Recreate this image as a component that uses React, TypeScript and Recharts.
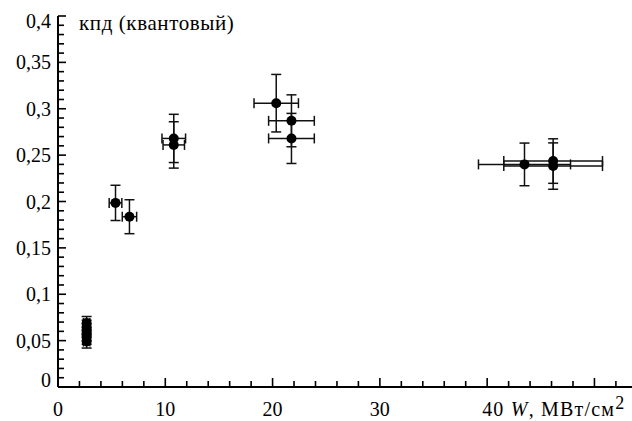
import React from 'react';
import { ScatterChart, Scatter, XAxis, YAxis, ErrorBar } from 'recharts';

// Measurements: radiation intensity W (MW/cm^2) vs quantum efficiency
const powerW = [2.67, 2.67, 2.67, 2.67, 2.67, 2.67, 5.36, 6.66, 10.79, 10.79, 20.34, 21.76, 21.76, 43.48, 46.15, 46.15];
const powerErr = [0.3, 0.3, 0.3, 0.3, 0.3, 0.3, 0.59, 0.67, 1.1, 1.0, 2.07, 2.13, 2.13, 4.29, 4.6, 4.6];
const quantumEff = [0.049, 0.053, 0.057, 0.061, 0.065, 0.069, 0.1985, 0.1836, 0.268, 0.261, 0.306, 0.287, 0.268, 0.24, 0.2436, 0.2382];
const effErr = [0.007, 0.007, 0.007, 0.007, 0.007, 0.007, 0.019, 0.0183, 0.026, 0.025, 0.031, 0.028, 0.027, 0.023, 0.024, 0.025];

const xTicks = [0, 2, 4, 6, 8, 10, 12, 14, 16, 18, 20, 22, 24, 26, 28, 30, 32, 34, 36, 38, 40, 42, 44, 46, 48, 50, 52];
const xMajorTicks = [0, 10, 20, 30, 40, 50];
const xTickLabels: Record<number, string> = { 0: '0', 10: '10', 20: '20', 30: '30' };
const xAxisUnit = ', МВт/см';

const yTicks = [
  0, 0.01, 0.02, 0.03, 0.04, 0.05, 0.06, 0.07, 0.08, 0.09,
  0.1, 0.11, 0.12, 0.13, 0.14, 0.15, 0.16, 0.17, 0.18, 0.19,
  0.2, 0.21, 0.22, 0.23, 0.24, 0.25, 0.26, 0.27, 0.28, 0.29,
  0.3, 0.31, 0.32, 0.33, 0.34, 0.35, 0.36, 0.37, 0.38, 0.39, 0.4,
];
const yMajorTicks = [0, 0.05, 0.1, 0.15, 0.2, 0.25, 0.3, 0.35, 0.4];
const yTickLabels = ['0', '0,05', '0,1', '0,15', '0,2', '0,25', '0,3', '0,35', '0,4'];
const yTitle = 'кпд (квантовый)';

const data = powerW.map((w, i) => ({ w, eff: quantumEff[i], ex: powerErr[i], ey: effErr[i] }));

const FONT = "'Times New Roman', Times, 'Liberation Serif', Tinos, 'DejaVu Serif', serif";
const txt: React.CSSProperties = { fontFamily: FONT, fontSize: 20 };
const AXIS_X = 58;
const AXIS_Y = 387;

const near = (a: number, b: number) => Math.abs(a - b) < 1e-6;

const YTick = (props: any) => {
  const { y, payload } = props;
  const v = payload.value as number;
  const idx = yMajorTicks.findIndex((m) => near(m, v));
  const major = idx >= 0;
  let dy = 7;
  if (near(v, 0)) dy = 0;
  if (near(v, 0.4)) dy = 12;
  return (
    <g>
      <line x1={AXIS_X} x2={AXIS_X + (major ? 8 : 6)} y1={y} y2={y} stroke="#000" strokeWidth={1.6} />
      {major && (
        <text x={51} y={y + dy} textAnchor="end" style={txt} fill="#000">
          {yTickLabels[idx]}
        </text>
      )}
    </g>
  );
};

const XTick = (props: any) => {
  const { x, payload } = props;
  const v = payload.value as number;
  const major = xMajorTicks.some((m) => near(m, v));
  const label = xTickLabels[v];
  return (
    <g>
      <line x1={x} x2={x} y1={AXIS_Y} y2={AXIS_Y - (major ? 9 : 6)} stroke="#000" strokeWidth={1.6} />
      {label !== undefined && (
        <text x={x} y={416} textAnchor="middle" style={txt} fill="#000">
          {label}
        </text>
      )}
      {near(v, 40) && (
        <text x={x - 5} y={416} textAnchor="start" style={{ ...txt, letterSpacing: 1.2 }} fill="#000">
          <tspan>40 </tspan>
          <tspan fontStyle="italic">W</tspan>
          <tspan>{xAxisUnit}</tspan>
          <tspan dy={-7} style={{ fontSize: 18 }}>2</tspan>
        </text>
      )}
    </g>
  );
};

const Dot = (props: any) => <circle cx={props.cx} cy={props.cy} r={5} fill="#000" />;

export default function App() {
  return (
    <div style={{ position: 'absolute', left: 0, top: 0, width: 632, height: 421, background: '#fff', fontFamily: FONT }}>
      <ScatterChart width={632} height={421} margin={{ top: 16, right: 0, bottom: 4, left: 0 }}>
        <XAxis
          type="number"
          dataKey="w"
          domain={[0, 53.5]}
          ticks={xTicks}
          interval={0}
          tick={<XTick />}
          tickLine={false}
          axisLine={{ stroke: '#000', strokeWidth: 2 }}
          height={30}
        />
        <YAxis
          type="number"
          dataKey="eff"
          domain={[0, 0.4]}
          ticks={yTicks}
          interval={0}
          tick={<YTick />}
          tickLine={false}
          axisLine={{ stroke: '#000', strokeWidth: 2 }}
          width={58}
          label={{
            content: () => (
              <text x={79} y={30} style={{ ...txt, fontSize: 21, letterSpacing: 0.6 }} fill="#000">
                {yTitle}
              </text>
            ),
          }}
        />
        <Scatter data={data} dataKey="eff" shape={<Dot />} isAnimationActive={false}>
          <ErrorBar dataKey="ey" direction="y" width={5} stroke="#111" strokeWidth={1.5} />
          <ErrorBar dataKey="ex" direction="x" width={5} stroke="#111" strokeWidth={1.5} />
        </Scatter>
      </ScatterChart>
    </div>
  );
}
